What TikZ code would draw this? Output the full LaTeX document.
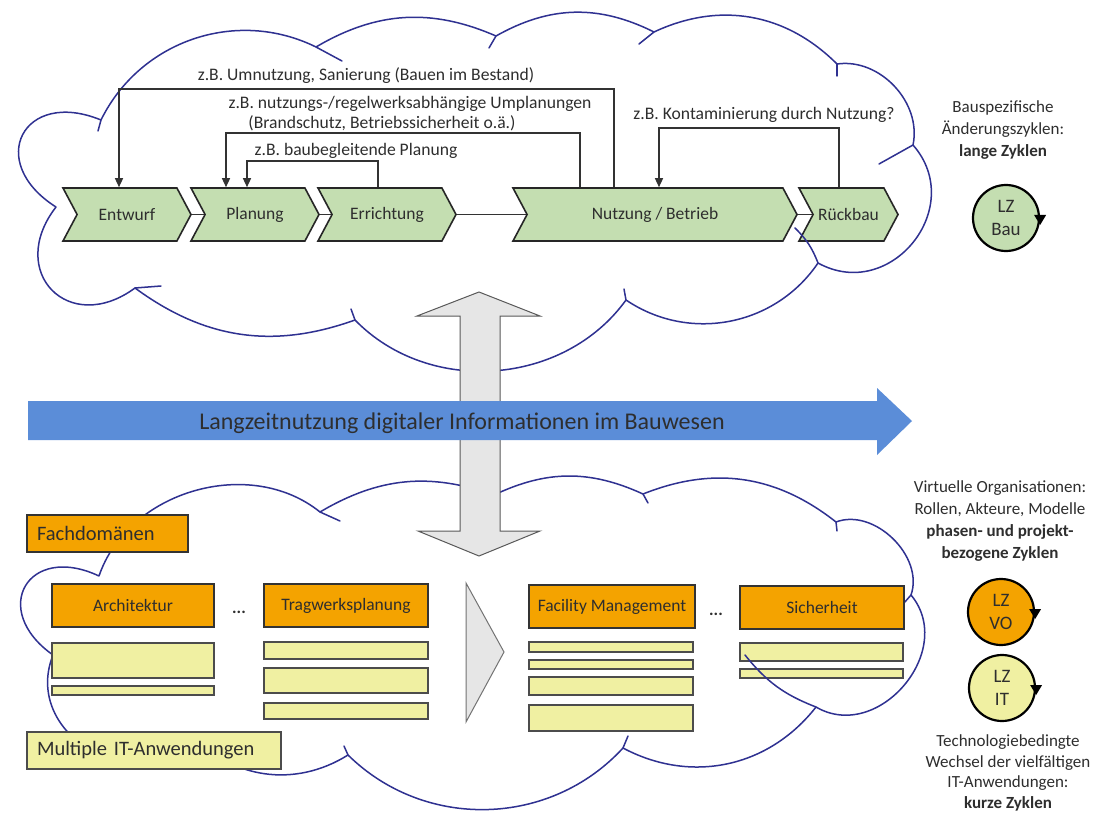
\documentclass[tikz,border=0pt]{standalone}
\usepackage{fontspec}
\setmainfont{Carlito}
\usetikzlibrary{shapes.symbols,arrows.meta}
\pgfdeclarelayer{bgzero}
\pgfdeclarelayer{bgone}
\pgfsetlayers{bgzero,bgone,main}
\definecolor{cloudblue}{HTML}{2F3191}
\definecolor{chevgreen}{HTML}{C4DEB1}
\definecolor{boxorange}{HTML}{F4A300}
\definecolor{boxyellow}{HTML}{F0F0A2}
\definecolor{arrowblue}{HTML}{5B8DD8}
\definecolor{txtgray}{HTML}{2E2E2E}
\definecolor{arrowgray}{HTML}{E6E6E6}
\begin{document}
\begin{tikzpicture}[x=1pt,y=-1pt,
  cloudline/.style={draw=cloudblue,line width=1.5pt,line join=round,line cap=round},
  chev/.style={signal, signal from=west, signal to=east, signal pointer angle=124,
    draw=black!85, line width=1.6pt, fill=chevgreen, minimum height=53pt,
    inner sep=0pt, font=\fontsize{17.5}{20}\selectfont, text=txtgray},
  link/.style={draw=black!80,line width=1.3pt},
  fb/.style={draw=black!80,line width=1.4pt,-{Triangle[length=9pt,width=8pt]}},
  lbl/.style={font=\fontsize{17.6}{20}\selectfont, text=txtgray, inner sep=0pt},
  obox/.style={rectangle, draw=black!80, line width=1.5pt, fill=boxorange,
    inner sep=0pt, font=\fontsize{17.5}{20}\selectfont, text=txtgray},
  ybar/.style={rectangle, draw=black!70, line width=1.5pt, fill=boxyellow, inner sep=0pt},
  lz/.style={circle, draw=black, line width=2.2pt, minimum size=66pt, inner sep=0pt,
    align=center, font=\fontsize{19}{23}\selectfont, text=txtgray},
  side/.style={align=center, font=\fontsize{17}{22}\selectfont, text=txtgray, inner sep=0pt},
  cyc/.style={fill=black},
]
\useasboundingbox (0,0) rectangle (1100,813);
\begin{pgfonlayer}{bgzero}
\fill[white] (0,0) rectangle (1100,813);
\end{pgfonlayer}

% ---------- top cloud ----------
\draw[cloudline] (101,120) to[bend left=45] (316,47) to[bend left=27] (496,36)
  to[bend left=28] (654,32) to[bend left=35] (837,64) to[bend left=55] (913,145)
  to[bend left=80,looseness=1.4] (818,263) to[bend left=45] (626,300)
  to[bend left=50] (355,320) to[bend left=28] (135,288)
  to[bend left=82,looseness=1.85] (56,207) to[bend left=85,looseness=2.2] (101,120);
\draw[cloudline] (316,47) -- (342,61);
\draw[cloudline] (496,36) -- (489,48);
\draw[cloudline] (654,32) -- (639,44);
\draw[cloudline] (837,64) -- (837,76);
\draw[cloudline] (913,145) -- (879,164);
\draw[cloudline] (626,300) -- (624,289);
\draw[cloudline] (355,320) -- (351,309);
\draw[cloudline] (135,288) -- (161,286);
\draw[cloudline] (101,120) -- (98,131);

% ---------- bottom cloud ----------
\draw[cloudline] (99,576) to[bend left=55] (320,512) to[bend left=25] (494,495)
  to[bend left=25] (643,494) to[bend left=30] (836,522) to[bend left=65] (911,595)
  to[bend left=80,looseness=1.25] (816,707) to[bend left=40] (623,748)
  to[bend left=46] (348,755) to[bend left=40] (190,733)
  to[bend left=82,looseness=1.4] (53,655) to[bend left=85,looseness=2.2] (99,576);
\draw[cloudline] (320,512) -- (340,521);
\draw[cloudline] (643,494) -- (648,503);
\draw[cloudline] (836,522) -- (837,531);
\draw[cloudline] (911,595) -- (904,603);
\draw[cloudline] (623,748) -- (628,736);
\draw[cloudline] (348,755) -- (344,746);

% ---------- chevrons ----------
\node[chev, minimum width=128pt] (entwurf) at (127,214.5) {Entwurf};
\node[chev, minimum width=128pt] (planung) at (255,214.5) {Planung};
\node[chev, minimum width=138pt] (errichtung) at (387,214.5) {Errichtung};
\node[chev, minimum width=284pt] (nutzung) at (655,214.5) {Nutzung / Betrieb};
\node[chev, minimum width=99pt] (rueckbau) at (848.5,214.5) {Rückbau};
\draw[cloudline] (818,263) to[bend right=12] (795,228);

\begin{pgfonlayer}{bgone}
\draw[link] (entwurf.east) -- (planung.center);
\draw[link] (planung.east) -- (errichtung.center);
\draw[link] (errichtung.east) -- (nutzung.center);
\draw[link] (nutzung.east) -- (rueckbau.center);
\end{pgfonlayer}

% ---------- feedback loops ----------
\draw[fb] ([xshift=-41pt]nutzung.north) -- ++(0,-98) -| ([xshift=-8pt]entwurf.north);
\draw[fb] ([xshift=-75pt]nutzung.north) -- ++(0,-54) -| ([xshift=-29pt]planung.north);
\draw[fb] ([xshift=-9pt]errichtung.north) -- ++(0,-26) -| ([xshift=-8pt]planung.north);
\draw[fb] ([xshift=-9.5pt]rueckbau.north) -- ++(0,-59) -| ([xshift=4pt]nutzung.north);

\node[lbl] (t1) at (366,76) {z.B. Umnutzung, Sanierung (Bauen im Bestand)};
\node[lbl] (t2a) at (410,104) {z.B. nutzungs-/regelwerksabhängige Umplanungen};
\node[lbl] (t2b) at (382,123) {(Brandschutz, Betriebssicherheit o.ä.)};
\node[lbl] (t3) at (356,151) {z.B. baubegleitende Planung};
\node[lbl] (t4) at (764,115) {z.B. Kontaminierung durch Nutzung?};

% ---------- right column top ----------
\node[side] (bauspez) at (1003,130) {Bauspezifische\\Änderungszyklen:\\\textbf{lange Zyklen}};
\node[lz, fill=chevgreen] (lzbau) at (1006,218) {LZ\\Bau};
\fill[cyc] ([shift={(-6,-3)}]lzbau.east) -- ([shift={(6,-3)}]lzbau.east) -- ([shift={(0,7)}]lzbau.east) -- cycle;

% ---------- vertical double arrow ----------
\draw[fill=arrowgray, draw=black!65, line width=1pt]
  (479,292) -- (540,316) -- (500,316) -- (500,531) -- (540,531) -- (479,556)
  -- (418,531) -- (460,531) -- (460,316) -- (417,316) -- cycle;

% ---------- blue arrow ----------
\fill[arrowblue] (28,401) -- (877,401) -- (877,388) -- (912,421) -- (877,455) -- (877,440) -- (28,440) -- cycle;
\node[font=\fontsize{24}{26}\selectfont, text=txtgray, inner sep=0pt] (langzeit) at (462,423) {Langzeitnutzung digitaler Informationen im Bauwesen};

% ---------- bottom boxes ----------
\node[obox, minimum width=161pt, minimum height=37pt, text width=141pt, align=left,
  font=\fontsize{20.5}{22}\selectfont] (fach) at (107.5,533.5) {Fachdomänen};
\node[obox, minimum width=162pt, minimum height=43pt] (arch) at (133,605.5) {Architektur};
\node[obox, minimum width=164pt, minimum height=43pt] (trag) at (346,605.5) {Tragwerksplanung};
\node[obox, minimum width=166pt, minimum height=43pt] (fm) at (612,606.5) {Facility Management};
\node[obox, minimum width=164pt, minimum height=43pt] (sich) at (822,607.5) {Sicherheit};
\node[lbl, font=\bfseries\fontsize{17}{20}\selectfont] (dots1) at (239,612) {...};
\node[lbl, font=\bfseries\fontsize{17}{20}\selectfont] (dots2) at (716,614) {...};

\node[ybar, minimum width=162pt, minimum height=35pt] (a1) at (133,660.5) {};
\node[ybar, minimum width=162pt, minimum height=9pt] (a2) at (133,690.5) {};
\node[ybar, minimum width=164pt, minimum height=17pt] (tr1) at (346,650.5) {};
\node[ybar, minimum width=164pt, minimum height=25pt] (tr2) at (346,680.5) {};
\node[ybar, minimum width=164pt, minimum height=16pt] (tr3) at (346,711) {};
\node[ybar, minimum width=164pt, minimum height=10pt] (f1) at (611,647) {};
\node[ybar, minimum width=164pt, minimum height=9pt] (f2) at (611,664.5) {};
\node[ybar, minimum width=164pt, minimum height=18pt] (f3) at (611,686) {};
\node[ybar, minimum width=164pt, minimum height=26pt] (f4) at (611,718) {};
\node[ybar, minimum width=163pt, minimum height=18pt] (s1) at (821.5,652) {};
\node[ybar, minimum width=163pt, minimum height=9pt] (s2) at (821.5,673.5) {};
\draw[cloudline] (816,707) to[bend left=15] (745,655);

\node[ybar, minimum width=254pt, minimum height=37pt, text width=234pt, align=left,
  font=\fontsize{20.5}{22}\selectfont, text=txtgray] (multi) at (154,750.5) {Multiple IT-Anwendungen};

% gray triangle
\draw[fill=arrowgray, draw=black!55, line width=1pt] (466,583) -- (504,652) -- (466,722) -- cycle;

% ---------- right column bottom ----------
\node[side] (votext) at (1000,521) {Virtuelle Organisationen:\\Rollen, Akteure, Modelle\\\textbf{phasen- und projekt-}\\\textbf{bezogene Zyklen}};
\node[lz, fill=boxorange] (lzvo) at (1001,612) {LZ\\VO};
\fill[cyc] ([shift={(-6,-3)}]lzvo.east) -- ([shift={(6,-3)}]lzvo.east) -- ([shift={(0,7)}]lzvo.east) -- cycle;
\node[lz, fill=boxyellow] (lzit) at (1002,688) {LZ\\IT};
\fill[cyc] ([shift={(-6,-3)}]lzit.east) -- ([shift={(6,-3)}]lzit.east) -- ([shift={(0,7)}]lzit.east) -- cycle;
\node[side, font=\fontsize{17}{20.5}\selectfont] (ittext) at (1008,773) {Technologiebedingte\\Wechsel der vielfältigen\\IT-Anwendungen:\\\textbf{kurze Zyklen}};
\end{tikzpicture}
\end{document}
